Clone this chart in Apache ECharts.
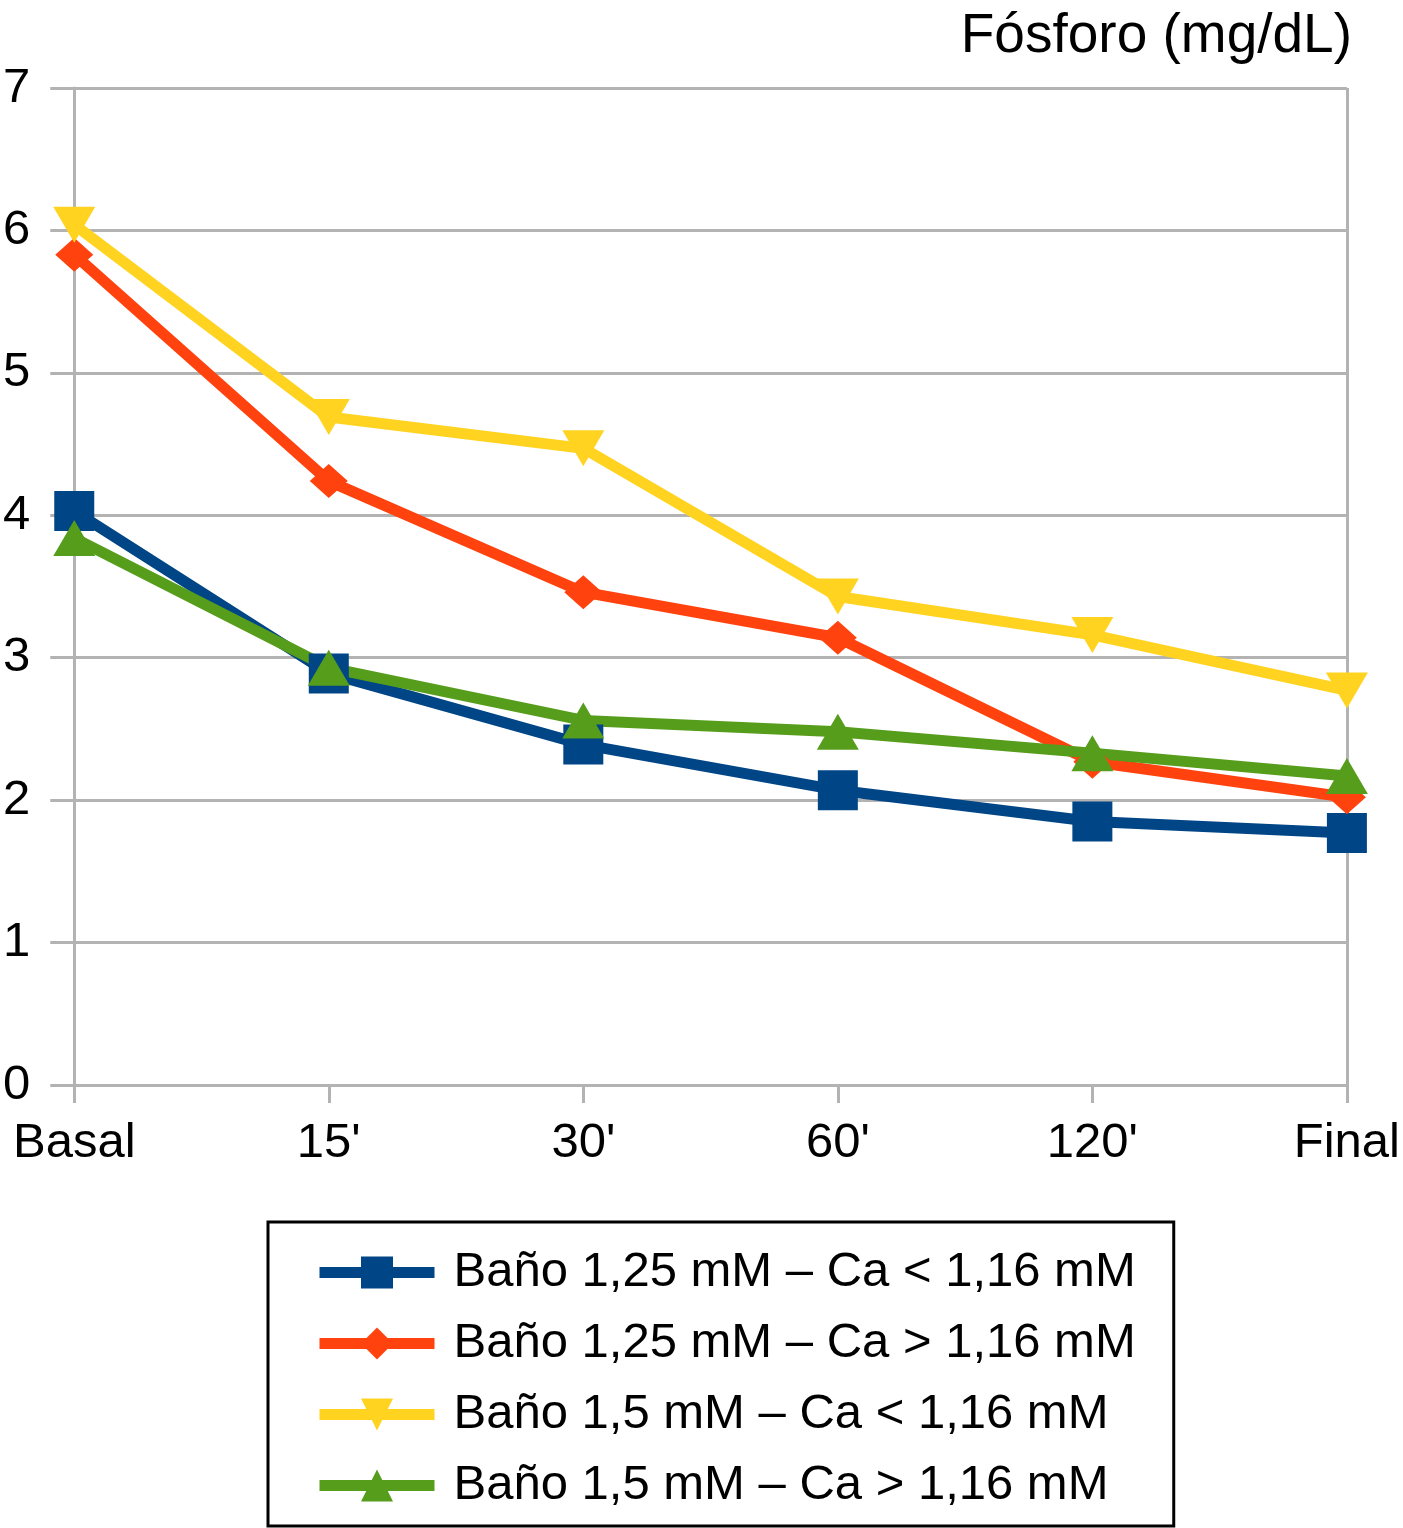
<!DOCTYPE html>
<html><head><meta charset="utf-8">
<script src="https://cdn.jsdelivr.net/npm/echarts@6/dist/echarts.min.js"></script>
<style>html,body{margin:0;padding:0;background:#fff}#c{width:1403px;height:1528px}</style>
</head><body><div id="c"></div>
<script>
const categories = ['Basal', "15'", "30'", "60'", "120'", 'Final'];
const seriesNames = [
  'Baño 1,25 mM – Ca < 1,16 mM',
  'Baño 1,25 mM – Ca > 1,16 mM',
  'Baño 1,5 mM – Ca < 1,16 mM',
  'Baño 1,5 mM – Ca > 1,16 mM'
];
const blueValues = [4.03, 2.89, 2.39, 2.07, 1.85, 1.77];
const redValues = [5.83, 4.24, 3.46, 3.14, 2.27, 2.02];
const yellowValues = [6.04, 4.69, 4.47, 3.43, 3.16, 2.77];
const greenValues = [3.84, 2.93, 2.56, 2.48, 2.33, 2.17];
const yTicks = [0, 1, 2, 3, 4, 5, 6, 7];

const FONT = 'Liberation Sans, Arial, Helvetica, sans-serif';
const GRID = '#b3b3b3';
const chart = echarts.init(document.getElementById('c'));

function mk(name, data, color, symbol, size, rotate) {
  return {
    name, type: 'line', data,
    symbol, symbolSize: size, symbolRotate: rotate || 0,
    lineStyle: { color, width: 11 },
    itemStyle: { color },
    emphasis: { disabled: true },
    animation: false
  };
}

chart.setOption({
  backgroundColor: '#fff',
  animation: false,
  title: {
    text: 'Fósforo (mg/dL)', right: 46, top: 4,
    textStyle: { fontFamily: FONT, fontSize: 55, fontWeight: 'normal', color: '#000' }
  },
  grid: { left: 69, right: 55, top: 88, bottom: 443, containLabel: false },
  xAxis: {
    type: 'category', data: categories, boundaryGap: false,
    axisLine: { show: true, lineStyle: { color: GRID, width: 3 } },
    axisTick: { show: true, length: 18, lineStyle: { color: GRID, width: 3 } },
    axisLabel: { fontFamily: FONT, fontSize: 49, color: '#000', margin: 34 },
    splitLine: { show: true, interval: (i) => i === 0 || i === categories.length - 1,
      lineStyle: { color: GRID, width: 3 } }
  },
  yAxis: {
    type: 'value', min: yTicks[0], max: yTicks[yTicks.length - 1], interval: 1,
    axisLine: { show: true, lineStyle: { color: GRID, width: 3 } },
    axisTick: { show: true, length: 24, lineStyle: { color: GRID, width: 3 } },
    axisLabel: { fontFamily: FONT, fontSize: 49, color: '#000', margin: 44, align: 'right',
      formatter: (v) => yTicks.includes(v) ? String(v) : '' },
    splitLine: { show: true, lineStyle: { color: GRID, width: 3 } }
  },
  legend: {
    orient: 'vertical', left: 268, top: 1222,
    padding: [26, 38, 16, 46],
    borderColor: '#000', borderWidth: 3,
    itemWidth: 115, itemHeight: 40, itemGap: 22,
    lineStyle: { width: 11 },
    textStyle: { fontFamily: FONT, fontSize: 49, color: '#000', lineHeight: 48, padding: [0, 0, 0, 14] },
    data: seriesNames
  },
  series: [
    mk(seriesNames[0], blueValues, '#004586', 'rect', 40),
    mk(seriesNames[1], redValues, '#ff420e', 'diamond', [38, 34]),
    mk(seriesNames[2], yellowValues, '#ffd320', 'triangle', [42, 36], 180),
    mk(seriesNames[3], greenValues, '#579d1c', 'triangle', [42, 36])
  ]
});
</script></body></html>
